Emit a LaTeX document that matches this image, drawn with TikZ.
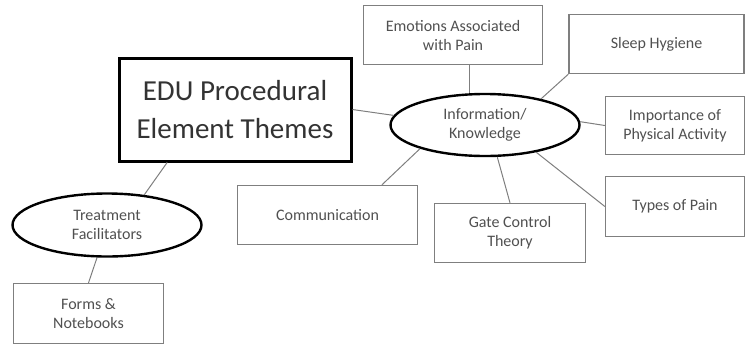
\documentclass[tikz,border=0pt]{standalone}
\usepackage{fontspec}
\setmainfont{Carlito}
\usepackage{tikz}
\usetikzlibrary{shapes.geometric}
\definecolor{boxgray}{HTML}{7F7F7F}
\definecolor{txtgray}{HTML}{505050}

\begin{document}
\begin{tikzpicture}[x=1pt, y=-1pt,
    theme/.style={draw=boxgray, line width=1.3pt, inner sep=0pt, align=center,
      text=txtgray, font=\fontsize{16}{19}\selectfont},
    group/.style={ellipse, draw=black, line width=2.4pt, inner sep=0pt, align=center,
      text=txtgray, font=\fontsize{16}{19}\selectfont},
    link/.style={draw=boxgray, line width=1pt}]
                \useasboundingbox (0,0) rectangle (746,349);
                \node[draw=black, line width=3pt, inner sep=0pt, align=center, text=black!80,
                  font=\fontsize{29}{38}\selectfont, minimum width=232pt, minimum height=103pt]
                  (edu) at (235,109.5) {EDU Procedural\\Element Themes};
                \node[group, minimum width=189pt, minimum height=62pt] (info) at (485,125) {Information/\\Knowledge};
                \node[group, minimum width=189pt, minimum height=63pt] (treat) at (107,225) {Treatment\\Facilitators};
                \node[theme, minimum width=179pt, minimum height=59pt] (emo) at (453,35) {Emotions Associated\\with Pain};
                \node[theme, minimum width=175pt, minimum height=59pt] (sleep) at (656.5,44) {Sleep Hygiene};
                \node[theme, minimum width=139pt, minimum height=58pt] (phys) at (675,125.5) {Importance of\\Physical Activity};
                \node[theme, minimum width=139pt, minimum height=60pt] (types) at (675,206.5) {Types of Pain};
                \node[theme, minimum width=151pt, minimum height=59pt] (gate) at (510,233) {Gate Control\\Theory};
                \node[theme, minimum width=180pt, minimum height=59pt] (comm) at (327.5,215) {Communication};
                \node[theme, minimum width=150pt, minimum height=60pt] (forms) at (88.5,313.5) {Forms \&\\Notebooks};
                \draw[link] (edu.east) -- (info.174);
                \draw[link] (edu.218) -- (treat.39);
                \draw[link] (treat.253) -- (forms.north);
                \draw[link] (info.116) -- (info.116 |- emo.south);
                \draw[link] (info.25) -- (sleep.south west);
                \draw[link] (info.2) -- (phys.west);
                \draw[link] (info.-28) -- (types.west);
                \draw[link] (info.-69) -- (gate.north);
                \draw[link] (info.200) -- (comm.29);
            \end{tikzpicture}
\end{document}
